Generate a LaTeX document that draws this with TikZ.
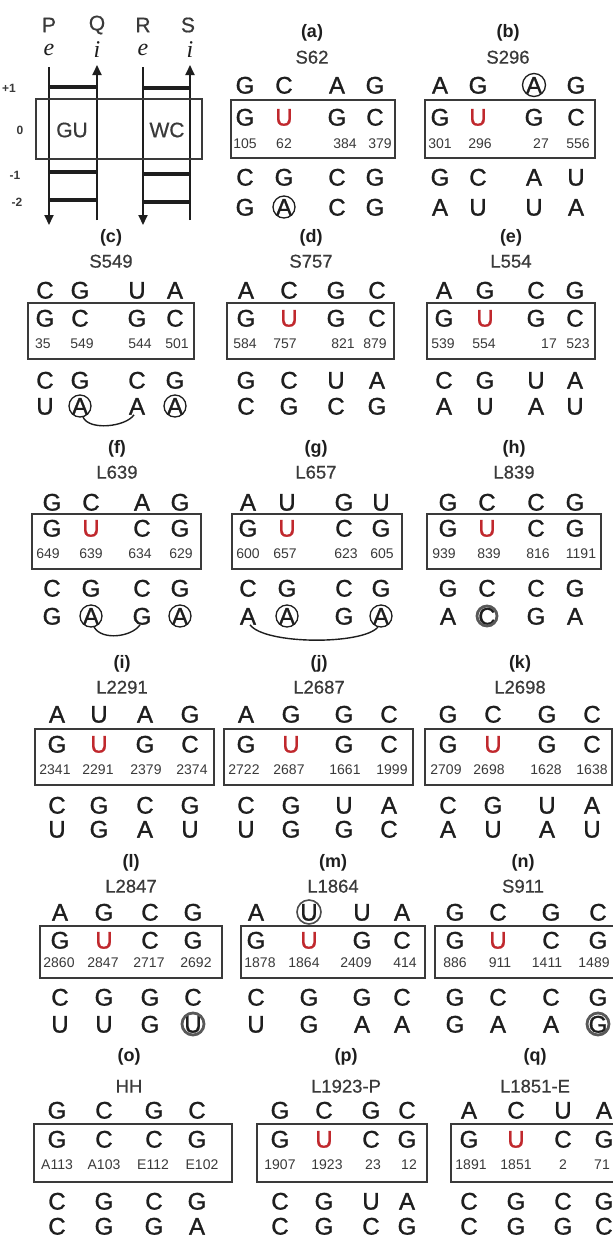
\documentclass[tikz,border=0pt]{standalone}
\usepackage{fontspec}
\setmainfont{Liberation Sans}
\newfontfamily\serifit{Liberation Serif}
\newfontfamily\letfont[FakeBold=1.2]{Liberation Sans}
\newfontfamily\semfont[FakeBold=0.6]{Liberation Sans}
\usetikzlibrary{arrows.meta}
\definecolor{ured}{HTML}{C0282D}
\definecolor{ink}{HTML}{1E1E1E}
\definecolor{gr}{HTML}{3A3A3A}
\tikzset{
 let/.style={font=\letfont\fontsize{24}{24}\selectfont, text=ink, inner sep=0pt, text height=17.2pt, text depth=0pt},
 num/.style={font=\fontsize{14}{14}\selectfont, text=gr, inner sep=0pt, text height=10pt, text depth=0pt},
 nm/.style={font=\semfont\fontsize{18.5}{18.5}\selectfont, text=gr, inner sep=0pt, text height=13.2pt, text depth=0pt},
 lab/.style={font=\fontsize{18}{18}\bfseries\selectfont, text=ink, inner sep=0pt},
 pbox/.style={draw=gr, line width=1.8pt, inner sep=0pt, anchor=north west},
 ring/.style={draw=ink, line width=1.3pt},
 bring/.style={draw=black!65, line width=2.8pt},
 arcline/.style={draw=ink, line width=1.4pt},
 sch/.style={font=\semfont\fontsize{21}{21}\selectfont, text=gr, inner sep=0pt},
 eit/.style={font=\serifit\itshape\fontsize{24}{24}\selectfont, text=ink, inner sep=0pt},
 lev/.style={font=\fontsize{12}{12}\bfseries\selectfont, text=gr, inner sep=0pt},
 vl/.style={draw=ink, line width=1.8pt},
 rung/.style={draw=ink, line width=3.4pt},
 tip/.style={-{Triangle[width=9pt,length=10pt]}},
}
\newcommand{\Ru}{\textcolor{ured}{U}}
\newcommand{\rowy}[9]{\def\Ylab{#1}\def\Ynm{#2}\def\Ytop{#3}\def\Bt{#4}\def\Bb{#5}\def\YL{#6}\def\YN{#7}\def\YA{#8}\def\YB{#9}}
\newcommand{\letrow}[5]{%
 \foreach \tx [count=\i] in {#5} {\pgfmathsetmacro\xx{{#4}[\i-1]}\node[#3] (#1-\i) at (\xx,#2) {\tx};}%
}
\newcommand{\pan}[8]{%
 \def\Xs{#7}\def\Xn{#8}%
 \node[lab] (#1-lab) at (#4,\Ylab) {#5};
 \node[nm] (#1-nm) at (#4,\Ynm) {#6};
 \pgfmathsetmacro\PBw{#3-#2}\pgfmathsetmacro\PBh{\Bb-\Bt}%
 \node[pbox, minimum width=\PBw pt, minimum height=\PBh pt] (#1-box) at (#2,\Bt) {};
}
\newcommand{\rows}[6]{%
 \letrow{#1-T}{\Ytop}{let}{\Xs}{#2}%
 \letrow{#1-M}{\YL}{let}{\Xs}{#3}%
 \letrow{#1-N}{\YN}{num}{\Xn}{#4}%
 \letrow{#1-A}{\YA}{let}{\Xs}{#5}%
 \letrow{#1-B}{\YB}{let}{\Xs}{#6}%
}
\begin{document}
\begin{tikzpicture}[x=1pt,y=-1pt]
\useasboundingbox (0,0) rectangle (613,1243);
\fill[white] (0,0) rectangle (613,1243);
% ---------- schematic ----------
\foreach \n/\x in {P/49,Q/97,R/143,S/188} \node[sch] (\n-lab) at (\x,25) {\n};
\node[eit] (P-e) at (49,50) {e};
\node[eit] (Q-i) at (97,50) {i};
\node[eit] (R-e) at (143,50) {e};
\node[eit] (S-i) at (190,50) {i};
\coordinate (P1) at (49,67);  \coordinate (P2) at (49,225);
\coordinate (Q1) at (97,65);  \coordinate (Q2) at (97,220);
\coordinate (R1) at (143,67); \coordinate (R2) at (143,225);
\coordinate (S1) at (190,65); \coordinate (S2) at (190,220);
\draw[vl,tip] (P1) -- (P2);
\draw[vl,tip] (Q2) -- (Q1);
\draw[vl,tip] (R1) -- (R2);
\draw[vl,tip] (S2) -- (S1);
\foreach \y in {87,172,200} \draw[rung] (P1 |- 0,\y) -- (Q1 |- 0,\y);
\foreach \y in {88,174,202} \draw[rung] (R1 |- 0,\y) -- (S1 |- 0,\y);
\node[pbox, draw=gr, line width=1.5pt, minimum width=166pt, minimum height=60pt] (sbox) at (35,98) {};
\node[sch] (GU) at (72,130) {GU};
\node[sch] (WC) at (167,130) {WC};
\node[lev] (l1) at (9,88) {+1};
\node[lev] (l0) at (20,130) {0};
\node[lev] (lm1) at (15,175) {-1};
\node[lev] (lm2) at (17,202) {-2};
% ---------- row 1 ----------
\rowy{33}{57}{85}{99}{157}{117}{143}{177}{207}
\pan{a}{230}{394}{312}{(a)}{S62}{245,284,337,375}{245,284,345,380}
\rows{a}{G,C,A,G}{G,\Ru,G,C}{105,62,384,379}{C,G,C,G}{G,A,C,G}
\draw[ring] (a-B-2.center) circle[radius=11pt];
\pan{b}{424}{594}{508}{(b)}{S296}{440,478,534,576}{440,480,541,578}
\rows{b}{A,G,A,G}{G,\Ru,G,C}{301,296,27,556}{G,C,A,U}{A,U,U,A}
\draw[ring] (b-T-3.center) circle[radius=11.5pt];
% ---------- row 2 ----------
\rowy{238}{261}{290}{302}{358}{318}{343}{380}{406}
\pan{c}{27}{193}{111}{(c)}{S549}{45,80,137,175}{43,82,140,177}
\rows{c}{C,G,U,A}{G,C,G,C}{35,549,544,501}{C,G,C,G}{U,A,A,A}
\draw[ring] (c-B-2.center) circle[radius=11pt];
\draw[ring] (c-B-4.center) circle[radius=11pt];
\draw[arcline] ([xshift=3pt,yshift=-11pt]c-B-2.center) .. controls +(6,14) and +(-8,12) .. ([xshift=-3pt]c-B-3.south);
\pan{d}{226}{393}{311}{(d)}{S757}{246,289,336,377}{245,285,343,375}
\rows{d}{A,C,G,C}{G,\Ru,G,C}{584,757,821,879}{G,C,U,A}{C,G,C,G}
\pan{e}{426}{594}{511}{(e)}{L554}{444,485,536,575}{443,484,549,578}
\rows{e}{A,G,C,G}{G,\Ru,G,C}{539,554,17,523}{C,G,U,A}{A,U,A,U}
% ---------- row 3 ----------
\rowy{449}{472}{502}{513}{568}{528}{553}{588}{616}
\pan{f}{31}{200}{117}{(f)}{L639}{52,91,142,180}{48,91,140,181}
\rows{f}{G,C,A,G}{G,\Ru,C,G}{649,639,634,629}{C,G,C,G}{G,A,G,A}
\draw[ring] (f-B-2.center) circle[radius=11pt];
\draw[ring] (f-B-4.center) circle[radius=11pt];
\draw[arcline] ([xshift=3pt,yshift=-11pt]f-B-2.center) .. controls +(8,14) and +(-8,12) .. ([xshift=-2pt]f-B-3.south);
\pan{g}{231}{401}{316}{(g)}{L657}{248,287,344,381}{248,285,346,382}
\rows{g}{A,U,G,U}{G,\Ru,C,G}{600,657,623,605}{C,G,C,G}{A,A,G,A}
\draw[ring] (g-B-2.center) circle[radius=11pt];
\draw[ring] (g-B-4.center) circle[radius=11pt];
\draw[arcline] ([xshift=2pt]g-B-1.south) .. controls +(15,20) and +(-15,18) .. ([xshift=-3pt,yshift=-11pt]g-B-4.center);
\pan{h}{426}{600}{514}{(h)}{L839}{448,487,536,575}{444,489,538,581}
\rows{h}{G,C,C,G}{G,\Ru,C,G}{939,839,816,1191}{G,C,C,G}{A,C,G,A}
\draw[bring] (h-B-2.center) circle[radius=10pt];
% ---------- row 4 ----------
\rowy{664}{687}{714}{728}{784}{744}{769}{805}{829}
\pan{i}{34}{213}{122}{(i)}{L2291}{57,99,145,190}{55,98,146,192}
\rows{i}{A,U,A,G}{G,\Ru,G,C}{2341,2291,2379,2374}{C,G,C,G}{U,G,A,U}
\pan{j}{223}{412}{319}{(j)}{L2687}{246,291,344,389}{244,289,345,392}
\rows{j}{A,G,G,C}{G,\Ru,G,C}{2722,2687,1661,1999}{C,G,U,A}{U,G,G,C}
\pan{k}{424}{611}{520}{(k)}{L2698}{448,493,547,592}{446,489,546,592}
\rows{k}{G,C,G,C}{G,\Ru,G,C}{2709,2698,1628,1638}{C,G,U,A}{A,U,A,U}
% ---------- row 5 ----------
\rowy{863}{886}{912}{925}{977}{940}{962}{997}{1024}
\pan{l}{39}{221}{131}{(l)}{L2847}{60,104,150,193}{59,103,149,196}
\rows{l}{A,G,C,G}{G,\Ru,C,G}{2860,2847,2717,2692}{C,G,G,C}{U,U,G,U}
\draw[bring] (l-B-4.center) circle[radius=11pt];
\pan{m}{240}{424}{333}{(m)}{L1864}{256,309,362,402}{260,304,356,405}
\rows{m}{A,U,U,A}{G,\Ru,G,C}{1878,1864,2409,414}{C,G,G,C}{U,G,A,A}
\draw[draw=black!70, line width=1.6pt] (m-T-2.center) circle[radius=12pt];
\pan{n}{434}{616}{523}{(n)}{S911}{455,498,551,598}{455,500,547,594}
\rows{n}{G,C,G,C}{G,\Ru,C,G}{886,911,1411,1489}{G,C,C,G}{G,A,A,G}
\draw[bring] (n-B-4.center) circle[radius=11pt];
% ---------- row 6 ----------
\rowy{1057}{1086}{1110}{1123}{1181}{1139}{1164}{1201}{1226}
\pan{o}{33}{231}{129}{(o)}{HH}{57,104,154,197}{57,104,153,202}
\rows{o}{G,C,G,C}{G,C,C,G}{A113,A103,E112,E102}{C,G,C,G}{C,G,G,A}
\pan{p}{256}{426}{346}{(p)}{L1923-P}{280,324,371,407}{280,327,373,409}
\rows{p}{G,C,G,C}{G,\Ru,C,G}{1907,1923,23,12}{C,G,U,A}{C,G,C,G}
\pan{q}{450}{616}{535}{(q)}{L1851-E}{469,516,563,604}{471,516,563,602}
\rows{q}{A,C,U,A}{G,\Ru,C,G}{1891,1851,2,71}{C,G,C,G}{C,G,G,C}
\end{tikzpicture}
\end{document}
